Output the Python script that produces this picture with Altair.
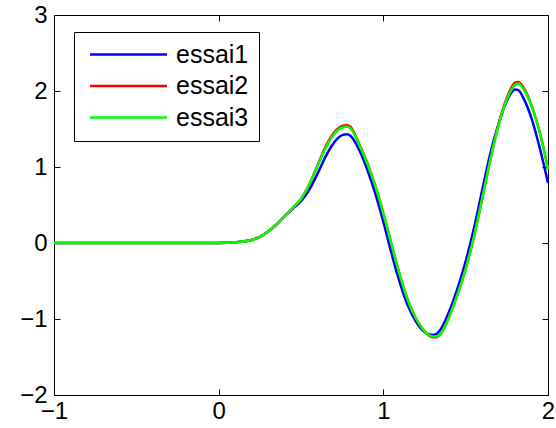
import altair as alt
import pandas as pd

# Sample positions along x and the three measured curves
x_vals = [-1.0, -0.75, -0.5, -0.25, 0.0, 0.1, 0.2, 0.25, 0.3, 0.35, 0.4, 0.45, 0.5,
          0.55, 0.6, 0.65, 0.7, 0.75, 0.78, 0.8, 0.85, 0.9, 0.95, 1.0,
          1.05, 1.1, 1.15, 1.2, 1.25, 1.3, 1.32, 1.35, 1.4, 1.45, 1.5, 1.55,
          1.6, 1.65, 1.7, 1.75, 1.8, 1.82, 1.85, 1.9, 1.95, 2.0]

essai1 = [0.0, 0.0, 0.0, 0.0, 0.0, 0.01, 0.04, 0.08, 0.15, 0.24, 0.35, 0.45, 0.55,
          0.70, 0.91, 1.14, 1.32, 1.42, 1.43, 1.41, 1.24, 0.98, 0.66, 0.28,
          -0.14, -0.52, -0.83, -1.04, -1.17, -1.21, -1.20, -1.13, -0.90, -0.60, -0.24, 0.19,
          0.69, 1.18, 1.57, 1.87, 2.02, 2.01, 1.91, 1.64, 1.25, 0.79]

essai2 = [0.0, 0.0, 0.0, 0.0, 0.0, 0.01, 0.04, 0.08, 0.15, 0.24, 0.35, 0.46, 0.58,
          0.77, 1.02, 1.27, 1.45, 1.54, 1.55, 1.53, 1.32, 1.07, 0.76, 0.39,
          -0.02, -0.42, -0.76, -1.0, -1.16, -1.24, -1.24, -1.19, -0.97, -0.68, -0.34, 0.08,
          0.58, 1.10, 1.56, 1.91, 2.11, 2.12, 2.05, 1.81, 1.46, 0.97]

essai3 = [0.0, 0.0, 0.0, 0.0, 0.0, 0.01, 0.04, 0.08, 0.15, 0.24, 0.35, 0.46, 0.58,
          0.77, 1.01, 1.25, 1.43, 1.52, 1.53, 1.51, 1.31, 1.06, 0.76, 0.39,
          -0.02, -0.42, -0.76, -1.0, -1.16, -1.23, -1.23, -1.19, -0.97, -0.68, -0.34, 0.08,
          0.58, 1.10, 1.55, 1.89, 2.08, 2.10, 2.03, 1.80, 1.45, 0.97]

series_names = ["essai1", "essai2", "essai3"]
series_colors = ["#0000ff", "#ff0000", "#00ff00"]
x_ticks = [-1, 0, 1, 2]
y_ticks = [-2, -1, 0, 1, 2, 3]

rows = []
for name, ys in zip(series_names, [essai1, essai2, essai3]):
    for xv, yv in zip(x_vals, ys):
        rows.append({"serie": name, "x": xv, "y": yv})
df = pd.DataFrame(rows)

W, H = 494, 380
FONT = "Liberation Sans"
x_scale = alt.Scale(domain=[-1, 2], nice=False, zero=False)
y_scale = alt.Scale(domain=[-2, 3], nice=False, zero=False)


def inner_ticks(x_orient, y_orient, x_offset, y_offset):
    # invisible layer whose axes only contribute inward-pointing tick marks
    return alt.Chart(df).mark_line(opacity=0).encode(
        x=alt.X("x:Q", scale=x_scale, title=None,
                axis=alt.Axis(orient=x_orient, offset=x_offset, values=x_ticks,
                              labels=False, domain=False, grid=False, ticks=True,
                              tickSize=6, tickColor="black", tickWidth=1)),
        y=alt.Y("y:Q", scale=y_scale, title=None,
                axis=alt.Axis(orient=y_orient, offset=y_offset, values=y_ticks,
                              labels=False, domain=False, grid=False, ticks=True,
                              tickSize=6, tickColor="black", tickWidth=1)),
    )


ticks_bottom_left = inner_ticks("top", "right", -H, -W)
ticks_top_right = inner_ticks("bottom", "left", -H, -W)

lines = alt.Chart(df).mark_line(strokeWidth=2.5, interpolate="monotone").encode(
    x=alt.X("x:Q", scale=x_scale, title=None,
            axis=alt.Axis(orient="bottom", values=x_ticks, format="d", ticks=False,
                          tickSize=0, domain=False, grid=False, labelFontSize=24,
                          labelPadding=4, labelFlush=False, labelOverlap=False)),
    y=alt.Y("y:Q", scale=y_scale, title=None,
            axis=alt.Axis(orient="left", values=y_ticks, format="d", ticks=False,
                          tickSize=0, domain=False, grid=False, labelFontSize=24,
                          labelPadding=7, labelOverlap=False)),
    color=alt.Color("serie:N",
                    scale=alt.Scale(domain=series_names, range=series_colors),
                    legend=alt.Legend(title=None, orient="none", legendX=20, legendY=17,
                                      symbolType="M-4,0L4,0", symbolSize=370,
                                      symbolStrokeWidth=2.5, symbolOffset=32,
                                      labelFontSize=25, labelFont=FONT,
                                      labelColor="black", labelOffset=35,
                                      rowPadding=5.5, padding=10,
                                      strokeColor="black", fillColor="white",
                                      cornerRadius=0)),
)

chart = (
    alt.layer(ticks_bottom_left, ticks_top_right, lines)
    .resolve_axis(x="independent", y="independent")
    .properties(width=W, height=H,
                padding={"left": 54, "top": 15, "right": 8, "bottom": 33},
                autosize=alt.AutoSizeParams(type="none"),
                background="white")
    .configure_view(stroke="black", strokeWidth=1)
    .configure_axis(labelFont=FONT, labelColor="black")
)

chart.save("out.html", embed_options={"renderer": "svg", "actions": False})
